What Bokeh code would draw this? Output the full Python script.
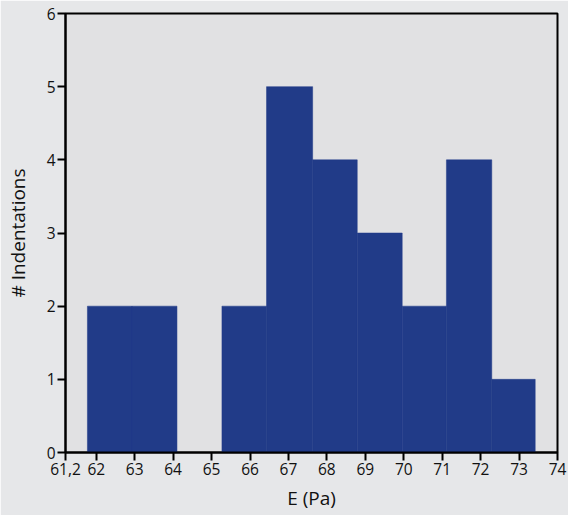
from bokeh.plotting import figure
from bokeh.models import FixedTicker, Range1d
from bokeh.embed import file_html
from bokeh.resources import INLINE

# Histogram data
bin_edges = [61.77, 62.93, 64.10, 65.27, 66.43, 67.63, 68.79, 69.96, 71.11, 72.29, 73.42]
counts = [2, 2, 0, 2, 5, 4, 3, 2, 4, 1]

x_tick_values = [61.2, 62, 63, 64, 65, 66, 67, 68, 69, 70, 71, 72, 73, 74]
x_tick_labels = ["61,2", "62", "63", "64", "65", "66", "67", "68", "69", "70", "71", "72", "73", "74"]
y_tick_values = [0, 1, 2, 3, 4, 5, 6]

x_label = "E (Pa)"
y_label = "# Indentations"

FONT = "Open Sans"
BAR = "#213b88"

p = figure(width=568, height=515, output_backend="svg", toolbar_location=None,
           x_range=Range1d(61.2, 74), y_range=Range1d(0, 6),
           min_border_left=65, min_border_right=11, min_border_top=13, min_border_bottom=63)

p.background_fill_color = "#e1e1e3"
p.border_fill_color = "#e6e7e9"
p.outline_line_color = "black"
p.outline_line_width = 2
p.xgrid.visible = False
p.ygrid.visible = False

lefts = bin_edges[:-1]
rights = bin_edges[1:]
p.quad(left=lefts, right=rights, bottom=[0] * len(counts), top=counts,
       fill_color=BAR, line_color=BAR, line_width=0.5)

p.xaxis.ticker = FixedTicker(ticks=x_tick_values)
p.xaxis.major_label_overrides = {v: l for v, l in zip(x_tick_values, x_tick_labels)}
p.yaxis.ticker = FixedTicker(ticks=y_tick_values)

for ax in (p.xaxis, p.yaxis):
    ax.axis_line_color = "black"
    ax.axis_line_width = 2
    ax.major_tick_line_color = "black"
    ax.major_tick_line_width = 2
    ax.major_tick_out = 8
    ax.major_tick_in = 0
    ax.minor_tick_line_color = None
    ax.major_label_text_font = FONT
    ax.major_label_text_font_size = "15.5px"
    ax.major_label_text_color = "#111111"
    ax.axis_label_text_font = FONT
    ax.axis_label_text_font_size = "19px"
    ax.axis_label_text_font_style = "normal"
    ax.axis_label_text_color = "#111111"

p.xaxis.axis_label = x_label
p.yaxis.axis_label = y_label
p.xaxis.major_label_standoff = 2
p.yaxis.major_label_standoff = 2
p.xaxis.axis_label_standoff = 7
p.yaxis.axis_label_standoff = 13

open("out.html", "w").write(file_html(p, INLINE))
